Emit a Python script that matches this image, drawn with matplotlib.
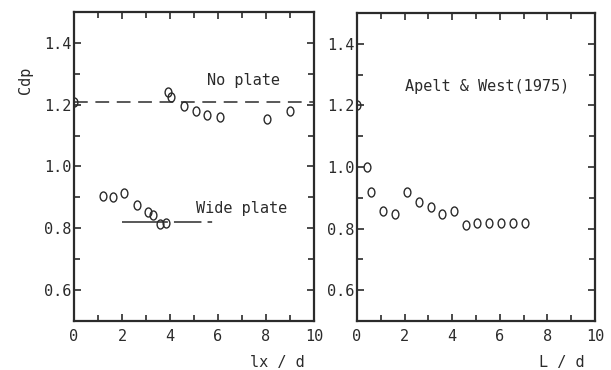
import numpy as np
import matplotlib.pyplot as plt
from matplotlib.path import Path
from matplotlib.transforms import Affine2D
from matplotlib.ticker import MultipleLocator, FormatStrFormatter

plt.rcParams['font.family'] = ['DejaVu Sans Mono']

# left panel: gap spacing lx/d
lx_no = [0.0, 3.9, 4.05, 4.6, 5.07, 5.55, 6.08, 8.05, 9.0]
cdp_no = [1.21, 1.24, 1.225, 1.197, 1.181, 1.168, 1.16, 1.155, 1.181]
lx_wide = [1.22, 1.61, 2.10, 2.61, 3.10, 3.30, 3.58, 3.83]
cdp_wide = [0.903, 0.90, 0.913, 0.875, 0.853, 0.842, 0.813, 0.817]
no_plate_level = 1.21
wide_plate_level = 0.82
wide_plate_span = [2.0, 6.0]

# right panel: splitter plate length L/d, Apelt & West (1975)
L_aw = [0.0, 0.41, 0.59, 1.08, 1.6, 2.09, 2.59, 3.09, 3.58, 4.07, 4.56,
        5.04, 5.55, 6.06, 6.55, 7.04]
cdp_aw = [1.2, 1.0, 0.918, 0.857, 0.849, 0.918, 0.887, 0.87, 0.849, 0.857,
          0.811, 0.818, 0.818, 0.818, 0.818, 0.818]

ink = '#2b2b2b'
W, H = 611, 370
fig = plt.figure(figsize=(W / 100, H / 100), dpi=100)
ax1 = fig.add_axes([74 / W, 49 / H, 240 / W, 309 / H])
ax2 = fig.add_axes([357 / W, 49 / H, 238 / W, 308 / H])

for ax in (ax1, ax2):
    ax.set_xlim(0, 10)
    ax.set_ylim(0.5, 1.5)
    ax.xaxis.set_major_locator(MultipleLocator(2))
    ax.xaxis.set_minor_locator(MultipleLocator(1))
    ax.yaxis.set_major_locator(MultipleLocator(0.2))
    ax.yaxis.set_minor_locator(MultipleLocator(0.1))
    ax.yaxis.set_major_formatter(FormatStrFormatter('%.1f'))
    ax.tick_params(which='both', direction='in', top=True, right=True,
                   color=ink, labelcolor=ink, labelsize=11, width=1.2)
    ax.tick_params(which='major', length=5)
    ax.tick_params(which='minor', length=4)
    ax.tick_params(axis='x', pad=6)
    ax.tick_params(axis='y', pad=2)
    for s in ax.spines.values():
        s.set_linewidth(1.6)
        s.set_color(ink)

# plotter-style "o": a slightly tall ellipse
oval = Path.unit_circle().transformed(Affine2D().scale(0.75, 1.0))
mk = dict(linestyle='none', marker=oval, markersize=6.5, mfc='none',
          mec=ink, mew=1.0)

ax1.axhline(no_plate_level, color=ink, lw=1.1, dashes=(9, 5))
ax1.plot(wide_plate_span, [wide_plate_level] * 2, color=ink, lw=1.1,
         dashes=(30, 4, 18, 4, 3, 4))
ax1.plot(lx_no, cdp_no, **mk)
ax1.plot(lx_wide, cdp_wide, **mk)
ax1.text(7.05, 1.279, 'No plate', ha='center', va='center', fontsize=11,
         color=ink)
ax1.text(6.99, 0.864, 'Wide plate', ha='center', va='center', fontsize=11,
         color=ink)

ax2.plot(L_aw, cdp_aw, **mk)
ax2.text(5.45, 1.262, 'Apelt & West(1975)', ha='center', va='center',
         fontsize=11, color=ink)

fig.text(25 / W, 1 - 80 / H, 'Cdp', rotation=90, ha='center', va='center',
         fontsize=11, color=ink)
fig.text(277 / W, 1 - 362 / H, 'lx / d', ha='center', va='center',
         fontsize=11, color=ink)
fig.text(562 / W, 1 - 362 / H, 'L / d', ha='center', va='center',
         fontsize=11, color=ink)

fig.savefig('out.png', dpi=100, facecolor='white')
